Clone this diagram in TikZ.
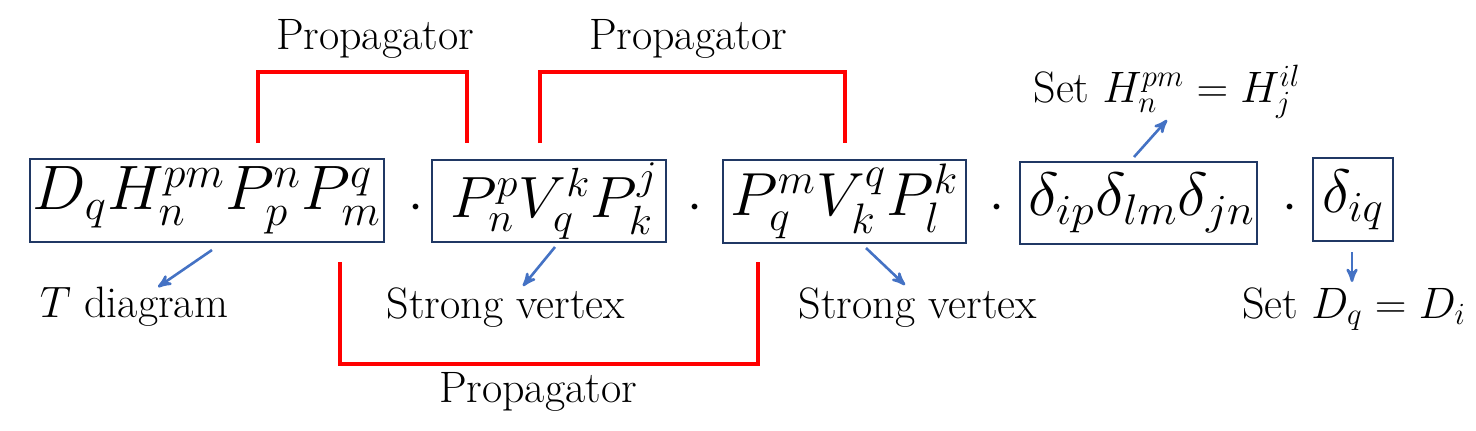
\RequirePackage{fix-cm}
\documentclass[tikz,border=0pt]{standalone}
\usepackage{amsmath}
\usetikzlibrary{arrows}

\definecolor{boxblue}{HTML}{203864}
\definecolor{hintblue}{HTML}{4472C4}

% a term sized to its box: width, total height, shift up, formula
\newcommand{\fitterm}[4]{\raisebox{#3}{\resizebox*{#1}{#2}{$#4$}}}

\begin{document}
\begin{tikzpicture}[x=0.5pt,y=-0.5pt,>=stealth',
  term/.style={draw=boxblue,line width=1pt,inner sep=0pt,
    font=\fontsize{25}{30}\selectfont},
  dotop/.style={anchor=base,inner sep=0pt,font=\fontsize{27}{32}\selectfont},
  note/.style={anchor=base,inner sep=0pt,font=\fontsize{22}{26}\selectfont},
  prop/.style={draw=red,line width=2pt},
  hint/.style={->,draw=hintblue,line width=1.3pt}]

\useasboundingbox (0,0) rectangle (1476,430);

% the product of terms
\node[term,minimum width=177pt,minimum height=41.5pt] (tdiag) at (207,200.5)
  {\fitterm{174pt}{33.5pt}{-3pt}{D_qH_n^{pm}P_p^nP_m^q}};
\node[term,minimum width=117pt,minimum height=41pt] (vert1) at (549,201)
  {\hspace*{5pt}\fitterm{104pt}{38.5pt}{0pt}{P_n^pV_q^kP_k^j}};
\node[term,minimum width=121.5pt,minimum height=41.5pt] (vert2) at (844.5,201.5)
  {\fitterm{114pt}{37.5pt}{-0.5pt}{P_q^mV_k^qP_l^k}};
\node[term,minimum width=118.5pt,minimum height=41pt] (dels) at (1138.5,203)
  {\hspace*{3pt}\fitterm{113.5pt}{30pt}{-1pt}{\delta_{ip}\delta_{lm}\delta_{jn}}};
\node[term,minimum width=40pt,minimum height=41.5pt] (delq) at (1353,199.5)
  {\fitterm{31pt}{30pt}{-2.75pt}{\delta_{iq}}};

\node[dotop] (dot1) at (416,220) {$\cdot$};
\node[dotop] (dot2) at (695,220) {$\cdot$};
\node[dotop] (dot3) at (997,220) {$\cdot$};
\node[dotop] (dot4) at (1290,220) {$\cdot$};

% labels
\node[note] (lab1) at (134,317) {$T$ diagram};
\node[note] (lab2) at (506,318) {Strong vertex};
\node[note] (lab3) at (918,318) {Strong vertex};
\node[note] (lab4) at (1167,102) {Set $H_n^{pm}=H_j^{il}$};
\node[note] (lab5) at (1354,318) {Set $D_q=D_i$};

\node[note] (prop1) at (375,49) {Propagator};
\node[note] (prop2) at (688,49) {Propagator};
\node[note] (prop3) at (538,402) {Propagator};

% propagator brackets
\coordinate (p1a) at (258,143);
\coordinate (p1b) at (467,143);
\coordinate (p2a) at (540,143);
\coordinate (p2b) at (845,143);
\coordinate (p3a) at (340,262);
\coordinate (p3b) at (758,262);

\draw[prop] (p1a) |- (467,72) -- (p1b);
\draw[prop] (p2a) |- (845,72) -- (p2b);
\draw[prop] (p3a) |- (758,364) -- (p3b);

% pointers to the labels
\coordinate (a1) at (212,250);
\coordinate (b1) at (158,287);
\coordinate (a2) at (555,247);
\coordinate (b2) at (523,286);
\coordinate (a3) at (866,248);
\coordinate (b3) at (905,285);
\coordinate (a4) at (1134,157);
\coordinate (b4) at (1167,120);
\coordinate (a5) at (1352,252);
\coordinate (b5) at (1352,282);

\draw[hint] (a1) -- (b1);
\draw[hint] (a2) -- (b2);
\draw[hint] (a3) -- (b3);
\draw[hint] (a4) -- (b4);
\draw[hint] (a5) -- (b5);

\end{tikzpicture}
\end{document}
